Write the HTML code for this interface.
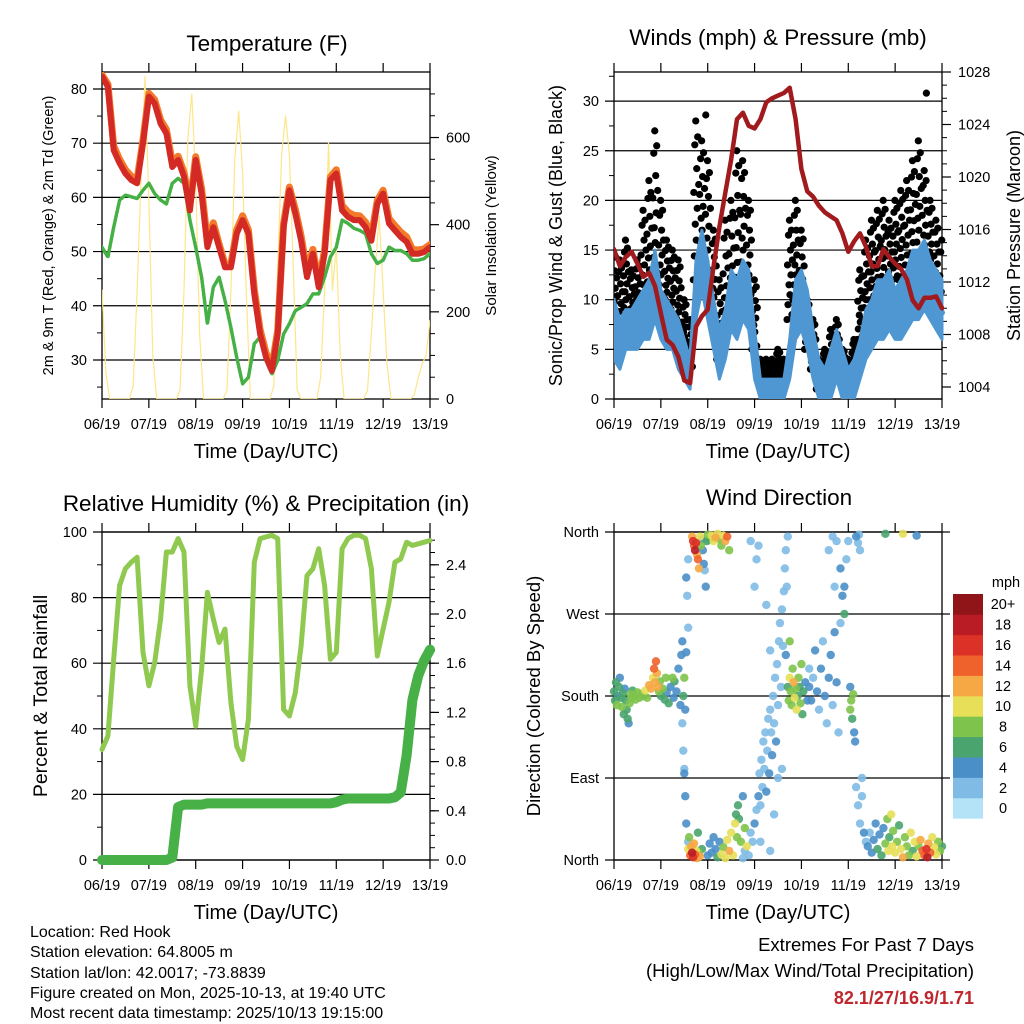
<!DOCTYPE html>
<html><head><meta charset="utf-8"><title>Station Meteogram</title>
<style>
html,body{margin:0;padding:0;background:#fff;}
svg{display:block;font-family:"Liberation Sans",Arial,sans-serif;}
</style></head>
<body>
<svg id="chart" width="1024" height="1024" viewBox="0 0 1024 1024" xmlns="http://www.w3.org/2000/svg">
<rect width="1024" height="1024" fill="#fff"/>
<g id="g1"></g>
<g id="g2"></g>
<g id="g3"></g>
<g id="g4"></g>
<g font-size="16" fill="#000">
<text x="30" y="937">Location: Red Hook</text>
<text x="30" y="957">Station elevation: 64.8005 m</text>
<text x="30" y="978">Station lat/lon: 42.0017; -73.8839</text>
<text x="30" y="998">Figure created on Mon, 2025-10-13, at 19:40 UTC</text>
<text x="30" y="1018">Most recent data timestamp: 2025/10/13 19:15:00</text>
</g>
<g text-anchor="end">
<text x="974" y="951" font-size="18.5">Extremes For Past 7 Days</text>
<text x="974" y="977" font-size="18.5">(High/Low/Max Wind/Total Precipitation)</text>
<text x="974" y="1004" font-size="18" font-weight="bold" fill="#c0272d">82.1/27/16.9/1.71</text>
</g>
</svg>
<script>
// ---- data (3-hourly unless noted), time in hours from 06/19 UTC ----
const dayLabels = ["06/19","07/19","08/19","09/19","10/19","11/19","12/19","13/19"];
const tempRed = [82.3,80.4,68.7,66.3,64.4,63.2,62.6,70,78.6,77.3,73.6,71.8,65.6,66.9,63.8,57.6,66.9,60.7,50.8,54.5,50.8,47.1,47.1,53.3,55.8,53.3,42.2,34.8,30.5,28,34.8,54.5,61.3,57,52,45.3,49.6,43.4,49.6,63.2,64.4,57.6,56.4,55.8,55.8,54.5,52,58.8,60.7,55.2,53.9,52.7,51.8,49.6,49.6,49.9,50.8];
const tempOrange = [82.6,80.9,69.5,67.0,65.1,63.9,63.3,70.6,79.2,78.0,74.3,72.5,66.4,67.6,64.6,58.6,67.5,61.6,51.8,55.3,51.4,47.7,47.6,54.0,56.6,54.0,43.0,35.6,31.3,28.8,35.4,55.2,61.9,57.8,52.9,46.2,50.4,44.2,50.3,63.8,65.1,58.5,57.3,56.7,56.6,55.4,52.9,59.4,61.3,56.1,54.8,53.6,52.7,50.4,50.3,50.5,51.3];
const dewpoint = [50.8,49,54.5,59.5,60.4,60.1,59.8,61.3,62.6,60.7,59.5,58.8,62.6,63.5,62.6,55.8,50.8,45.3,36.7,43.4,45.3,41,36,30.5,25.6,26.8,33,34.2,29.9,27.4,29.9,34.8,36.7,39.1,39.7,40.4,42.2,42.2,45.3,49,50.8,55.8,55.2,54.3,53.9,53.3,49.6,47.8,48.4,50.8,50.2,50.2,49.6,48.4,48.4,48.7,49.6];
// solar insolation, 2-hourly
const solar = [250,60,0,0,0,0,0,0,30,250,500,740,450,100,0,0,0,0,0,0,20,250,600,700,500,150,0,0,0,0,0,0,20,250,550,660,520,230,0,0,0,0,0,0,30,300,560,650,560,300,20,0,0,0,0,0,50,250,590,250,350,100,0,0,0,0,0,0,20,150,300,420,250,80,0,0,0,0,0,0,10,50,80,100,180];
const pressure = [1014.5,1013.2,1013.9,1014.3,1013.4,1012.4,1012.7,1011.7,1009.6,1007.6,1007.2,1006.3,1004.5,1004.3,1008.6,1009.4,1009.9,1013.2,1016.2,1018.8,1021.3,1024.4,1024.9,1023.9,1023.7,1024.4,1025.7,1026,1026.2,1026.4,1026.8,1024.4,1020.6,1018.9,1018.5,1017.8,1017.3,1017,1016.7,1015.7,1014.3,1015.1,1015.7,1014.7,1013.2,1013.2,1014.5,1013.9,1013.4,1013,1012.2,1010.6,1010,1010.8,1010.8,1010.9,1010];
const windSpeed = [7.3,5,7,6.7,7.3,8.4,8.7,10.7,8,7.3,6.7,5,4,2.3,10.7,14.6,10.7,7.3,4.7,6.7,10,9,11.4,10,4.7,1,0.7,1,1,1,4,9,10,8,4.7,2,1,2.3,4,2.3,1.3,2,4,6,7.3,8.7,8.7,9.7,8.4,8.7,10,11.4,11.4,12.4,10.7,9.7,8.7];
const windLow = [4,3,5,5,5,6,6,8,6,5,5,3,2,1,8,11,8,5,2,4,7,6,8,7,2,0,0,0,0,0,2,6,7,5,2,0,0,0,2,0,0,0,2,4,5,6,6,7,6,6,7,8,8,9,8,7,6];
const windHigh = [10,8,9,9,10,11,12,15,11,10,9,8,6,4,14,17,14,10,7,9,13,12,14,13,7,2,2,2,2,2,6,12,13,11,7,4,3,5,7,5,3,4,6,9,10,12,12,13,11,12,13,15,15,16,14,13,12];
const gustLow = [8,6,8,7,8,9,10,12,10,9,8,7,5,3,12,14,12,8,4,6,8,10,12,10,5,2,2,2,2,2,8,10,8,5,3,1,2,2,3,3,1,3,6,8,10,10,11,10,12,12,12,13,14,13,12,10,8];
const gustHigh = [15,14,16,13,14,19,22,27,20,16,15,14,10,8,28,26,24,17,12,18,20,25,24,20,12,4,4,4,5,4,18,20,17,10,8,4,5,7,8,5,4,6,13,16,18,19,20,18,20,21,22,24,26,23,20,18,16];
const gustOutlierT = [47, 160];
const gustOutlierV = [28.6, 30.8];
const rhValues = [33.7,37.8,61.2,83.7,88.8,90.8,92.3,63.3,53.1,60.2,73.5,93.9,93.9,98,93.9,53.1,40.8,58.2,81.6,73.5,66.3,70.4,48,34.7,30.6,42.9,90.8,98,98.5,99,98,45.9,43.9,51,65.3,86.7,88.8,94.9,83.7,61.2,63.3,94.9,98,99,99,98,88.8,62.2,70.4,78.6,90.8,91.8,96.9,95.9,96.4,96.9,97.4];
const precipValues = [0,0,0,0,0,0,0,0,0,0,0,0,0.02,0.43,0.45,0.45,0.45,0.45,0.46,0.46,0.46,0.46,0.46,0.46,0.46,0.46,0.46,0.46,0.46,0.46,0.46,0.46,0.46,0.46,0.46,0.46,0.46,0.46,0.46,0.46,0.47,0.49,0.5,0.5,0.5,0.5,0.5,0.5,0.5,0.5,0.51,0.55,0.85,1.3,1.5,1.62,1.71];
// wind direction scatter: time (h), direction (deg), speed (mph)
const dirPts = [[0,185,6],[0.5,175,6],[1,195,5],[1.5,170,7],[2,180,4],[2.5,190,6],[3,200,4],[3.5,178,6],[4,168,7],[4.5,183,5],[5,160,6],[5.5,188,4],[6,175,6],[6.5,165,5],[7,155,6],[7.5,150,4],[8,172,7],[8.5,182,8],[9,178,7],[9.5,186,6],
[10,180,7],[11,176,8],[12,184,7],[13,178,7],[14,182,8],[15,180,6],[16,186,9],[17,178,8],[18,192,11],[19,188,12],[20,200,10],[20.5,210,13],[21,195,12],[21.5,218,14],[22,205,11],[22.5,190,12],[23,185,8],[23.5,196,7],[24,180,6],[25,188,7],[26,176,6],[26.5,200,8],
[27,184,4],[28,172,6],[29,190,4],[30,200,7],[30.5,178,3],[31,196,6],[32,185,4],[33,210,3],[34,170,4],[34.5,225,4],[35,240,4],[35.5,180,5],[36,200,8],[36.5,165,3],[37,228,4],
[35,150,2],[35.5,120,2],[36,95,3],[36.5,70,4],[37,40,3],[37.5,290,2],[38,330,2],[37,310,3],[38,255,2],[36,100,2],[38,20,2],
[40,355,12],[40.5,350,16],[41,345,14],[41.5,340,18],[42,348,15],[42.5,335,12],[43,330,13],[43.5,320,12],[44,355,9],[44.5,345,8],[45,352,4],[45.5,340,4],[46,325,3],[46.5,318,2],[47,300,3],[47.5,350,5],
[38,12,10],[38.5,25,8],[39,5,14],[39.5,15,12],[40,8,18],[40.5,3,16],[41,18,12],[41.5,6,14],[42,10,10],[42.5,2,12],[43,30,6],[43.5,8,8],[44,4,11],[45,12,6],
[48,357,8],[49,352,6],[50,356,9],[51,350,10],[52,354,12],[53,358,10],[54,352,8],[55,345,7],[56,356,10],[57,350,12],[58,355,14],[59,340,7],
[48,5,3],[49,18,3],[50,8,4],[51,25,3],[52,12,4],[53,3,6],[54,20,4],[55,6,10],[56,14,8],[57,2,9],[58,22,10],[59,10,12],[60,30,9],[61,5,10],
[62,40,9],[62.5,50,6],[63,25,8],[63.5,60,6],[64,45,5],[65,20,7],[66,70,4],[67,35,8],[68,15,9],
[66,2,2],[67,10,1],[69,5,1],[70,30,2],[71,20,1],[72,40,3],[73,55,2],[74,70,3],[74.5,95,2],[75,60,2],[75.5,110,1],[76,80,2],[76.5,130,1],[77,100,2],[77.5,140,1],[78,75,4],[78.5,120,2],[79,155,1],[79.5,95,3],[80,165,2],[80.5,140,1],[81,115,4],[81.5,180,1],[82,150,2],[82.5,200,1],[83,130,4],[83.5,215,1],[84,170,2],[84.5,240,1],[85,260,2],[85.5,190,1],[86,275,2],[86.5,235,1],[87,295,1],[87.5,320,2],[88,340,1],[88.5,300,2],[89,355,1],[72,300,1],[73,330,1],[74,345,1],[70,350,1],[75,20,1],[80,10,1],[82,50,1],[84,90,2],[86,100,1],[78,280,1],[80,230,1],
[89,190,6],[89.5,175,8],[90,200,10],[90.5,185,8],[91,170,7],[91.5,210,8],[92,195,12],[92.5,178,10],[93,188,8],[93.5,165,9],[94,180,6],[94.5,200,8],[95,190,6],[95.5,172,7],[96,215,8],[96.5,160,6],[97,185,5],[98,195,4],[99,175,4],[100,210,2],[88,225,4],[90,240,8],
[100,190,4],[101,175,3],[102,200,2],[103,230,3],[104,185,4],[105,165,2],[106,210,3],[107,240,2],[108,180,4],[109,150,2],[110,200,3],[111,225,4],[112,170,2],[113,250,4],[114,195,3],[115,140,2],[116,260,2],[117,290,4],[118,300,3],[119,330,2],[120,350,2],[118,270,5],[116,320,3],[114,350,2],[112,355,1],[110,340,2],[113,300,2],
[121,165,8],[121.5,175,7],[122,155,6],[122.5,182,8],[123,140,4],[123.5,130,3],[121,190,3],
[124,355,3],[125,348,2],[126,340,2],[125.5,357,2],[124,80,2],[125,60,1],[126,40,2],[127,70,2],[128,30,3],[129,20,2],[127,90,1],
[130,15,3],[131,30,2],[132,8,4],[133,22,3],[134,40,3],[135,12,5],[136,28,4],[137,5,6],[138,35,4],[139,18,7],[140,45,8],[140.5,10,9],[141,25,6],[142,50,9],[142.5,15,10],[143,32,8],[144,8,10],[145,20,8],[146,38,6],[147,12,9],[148,3,12],[149,25,8],[150,15,7],[151,5,8],[152,30,9],[153,10,6],[154,20,9],[155,4,10],[156,15,8],[157,22,12],[158,10,13],[159,5,14],[160,12,16],[160.5,3,18],[161,18,12],[162,8,13],[163,25,10],[164,14,9],[165,6,10],[166,20,8],[167,10,7],[168,15,6],
[139,358,6],[148,358,10],[155,356,4]];
const speedLabels = ["0","2","4","6","8","10","12","14","16","18","20+"];
const speedColors = ["#b4e3f8","#80bbe5","#4a8fc8","#49a46e","#7ec34b","#e7df58","#f5a844","#ef622b","#dc3127","#b91c24","#8f1519"];

const NS="http://www.w3.org/2000/svg";
function el(parent,tag,attrs){const e=document.createElementNS(NS,tag);for(const k in attrs)e.setAttribute(k,attrs[k]);parent.appendChild(e);return e;}
function txt(parent,s,x,y,size,anchor,extra){const t=el(parent,'text',Object.assign({x:x,y:y,'font-size':size,'text-anchor':anchor||'middle'},extra||{}));t.textContent=s;return t;}

function axesFrame(g,P,cfg){
  const xs=t=>P.L+t/168*(P.R-P.L);
  cfg.grid.forEach(v=>{const y=cfg.yL(v);const l=el(g,'line',{x1:P.L-9,x2:P.R,y1:y,y2:y,stroke:'#000','stroke-width':1.2});
    
    });
  cfg.minorL.forEach(v=>{const y=cfg.yL(v);el(g,'line',{x1:P.L-5,x2:P.L,y1:y,y2:y,stroke:'#000','stroke-width':1});});
  if(cfg.yR){
    cfg.majorR.forEach(v=>{const y=cfg.yR(v);el(g,'line',{x1:P.R,x2:P.R+9,y1:y,y2:y,stroke:'#000','stroke-width':1.2});});
    cfg.minorR.forEach(v=>{const y=cfg.yR(v);el(g,'line',{x1:P.R,x2:P.R+5,y1:y,y2:y,stroke:'#000','stroke-width':1});});
  }
  el(g,'rect',{x:P.L,y:P.T,width:P.R-P.L,height:P.B-P.T,fill:'none',stroke:'#000','stroke-width':1.3});
  for(let d=0;d<=7;d++){const x=xs(d*24);
    el(g,'line',{x1:x,x2:x,y1:P.B,y2:P.B+9,stroke:'#000','stroke-width':1.2});
    el(g,'line',{x1:x,x2:x,y1:P.T,y2:P.T-9,stroke:'#000','stroke-width':1.2});
    const lb=txt(g,dayLabels[d],x,P.B+30,14.5);
    
    
  }
  const xt=txt(g,'Time (Day/UTC)',(P.L+P.R)/2,P.B+59,20);
  
  
  const tt=txt(g,cfg.title,cfg.titleX,cfg.titleY,22.5);
  
  
  cfg.labelsL.forEach(v=>{const lb=txt(g,cfg.fmtL?cfg.fmtL(v):String(v),P.L-15,cfg.yL(v)+5,14.5,'end');
    
    });
  if(cfg.yR) cfg.labelsR.forEach(v=>{const lb=txt(g,cfg.fmtR?cfg.fmtR(v):String(v),P.R+16,cfg.yR(v)+5,14.5,'start');
    
    });
  const yl=txt(g,cfg.ylab,0,0,cfg.ylabSize,'middle',{transform:`translate(${cfg.ylabX},${(P.T+P.B)/2}) rotate(-90)`});
  
  
  if(cfg.y2lab){const y2=txt(g,cfg.y2lab,0,0,cfg.y2labSize,'middle',{transform:`translate(${cfg.y2labX},${(P.T+P.B)/2}) rotate(-90)`});
    
    }
  return xs;
}
function path(g,arr,step,xs,ys,attrs,name){
  const d=arr.map((v,i)=>(i?'L':'M')+xs(i*step).toFixed(1)+','+ys(v).toFixed(1)).join('');
  const p=el(g,'path',Object.assign({d:d,fill:'none','stroke-linejoin':'round','stroke-linecap':'round'},attrs));
  
  
  return p;
}
function range(a,b,s){const r=[];for(let v=a;v<=b+1e-9;v+=s)r.push(Math.round(v*1000)/1000);return r;}

// ---- Panel 1: Temperature ----
(function(){
  const g=document.getElementById('g1');
  const P={L:102,R:430,T:72,B:399};
  const yL=v=>399-(v-22.8)*5.42, yR=v=>399-v*0.4358;
  const clipG=el(g,'g',{'clip-path':'url(#c1)'});
  const cp=el(el(g,'defs',{}),'clipPath',{id:'c1'});el(cp,'rect',{x:P.L,y:P.T,width:P.R-P.L,height:P.B-P.T});
  const xs=axesFrame(g,P,{yL:yL,yR:yR,grid:[30,40,50,60,70,80],minorL:[25,35,45,55,65,75],
    majorR:[0,200,400,600],minorR:range(50,700,50).filter(v=>v%200),labelsL:[30,40,50,60,70,80],labelsR:[0,200,400,600],
    title:'Temperature (F)',titleX:267,titleY:51,ylab:'2m & 9m T (Red, Orange) & 2m Td (Green)',ylabX:53,ylabSize:14.5,
    y2lab:'Solar Insolation (Yellow)',y2labX:496,y2labSize:15});
  g.appendChild(clipG);
  path(clipG,solar,2,xs,yR,{stroke:'#fde68a','stroke-width':1.2},'solar-line');
  path(clipG,dewpoint,3,xs,yL,{stroke:'#45b045','stroke-width':3.5,'stroke-dasharray':'2.5 1.5'},'dewpoint-line');
  path(clipG,tempOrange,3,xs,yL,{stroke:'#f37a2a','stroke-width':7},'temp-9m-line');
  path(clipG,tempRed,3,xs,yL,{stroke:'#d42a26','stroke-width':6},'temp-2m-line');
})();

// ---- Panel 2: Winds & Pressure ----
(function(){
  const g=document.getElementById('g2');
  const P={L:614,R:942,T:72,B:399};
  const yL=v=>399-v*9.93, yR=v=>387-(v-1004)*13.125;
  const cp=el(el(g,'defs',{}),'clipPath',{id:'c2'});el(cp,'rect',{x:P.L,y:P.T-4,width:P.R-P.L+4,height:P.B-P.T+4});
  const xs=axesFrame(g,P,{yL:yL,yR:yR,grid:[0,5,10,15,20,25,30],minorL:[2.5,7.5,12.5,17.5,22.5,27.5,32.5],
    majorR:[1004,1008,1012,1016,1020,1024,1028],minorR:range(1004,1028,1),labelsL:[0,5,10,15,20,25,30],labelsR:[1004,1008,1012,1016,1020,1024,1028],
    title:'Winds (mph) & Pressure (mb)',titleX:778,titleY:45,ylab:'Sonic/Prop Wind & Gust (Blue, Black)',ylabX:562,ylabSize:18,
    y2lab:'Station Pressure (Maroon)',y2labX:1020,y2labSize:18});
  const cg=el(g,'g',{'clip-path':'url(#c2)'});
  const fr=[0,0.55,0.15,0.85,0.35,1.0,0.25,0.7,0.45,0.9,0.05,0.6];
  gustLow.forEach((lo,i)=>{const hi=gustHigh[i];
    fr.forEach((f,k)=>{const t=i*3+(k-5.5)*0.25; if(t<0||t>168)return;
      const c=el(cg,'circle',{cx:xs(t),cy:yL(lo+(hi-lo)*f),r:3.6,fill:'#000'});
      
      });
  });
  gustOutlierT.forEach((t,i)=>{const c=el(cg,'circle',{cx:xs(t),cy:yL(gustOutlierV[i]),r:3.6,fill:'#000'});
    
    });
  // wind band between low and high
  let d='';
  windHigh.forEach((v,i)=>{d+=(i?'L':'M')+xs(i*3).toFixed(1)+','+yL(v).toFixed(1);});
  for(let i=windLow.length-1;i>=0;i--){d+='L'+xs(i*3).toFixed(1)+','+yL(windLow[i]).toFixed(1);}
  const band=el(cg,'path',{d:d+'Z',fill:'#4f97d2',stroke:'#4f97d2','stroke-width':3,'stroke-linejoin':'round'});
  
  
  path(cg,windSpeed,3,xs,yL,{stroke:'#4f97d2','stroke-width':6},'wind-speed-line');
  path(cg,pressure,3,xs,yR,{stroke:'#a11a1d','stroke-width':4.5},'pressure-line');
})();

// ---- Panel 3: RH & Precip ----
(function(){
  const g=document.getElementById('g3');
  const P={L:102,R:430,T:532,B:860};
  const yL=v=>860-v*3.28, yR=v=>860-v*123;
  const xs=axesFrame(g,P,{yL:yL,yR:yR,grid:[0,20,40,60,80,100],minorL:[10,30,50,70,90],
    majorR:[0,0.4,0.8,1.2,1.6,2.0,2.4],minorR:range(0,2.6,0.1),labelsL:[0,20,40,60,80,100],labelsR:[0,0.4,0.8,1.2,1.6,2.0,2.4],fmtR:v=>v.toFixed(1),
    title:'Relative Humidity (%) & Precipitation (in)',titleX:266,titleY:511,ylab:'Percent & Total Rainfall',ylabX:47,ylabSize:19.5});
  path(g,rhValues,3,xs,yL,{stroke:'#8fc94f','stroke-width':5},'rh-line');
  path(g,precipValues,3,xs,yR,{stroke:'#47b047','stroke-width':10},'precip-line');
})();

// ---- Panel 4: Wind Direction ----
(function(){
  const g=document.getElementById('g4');
  const P={L:614,R:942,T:532,B:860};
  const yL=v=>860-v*328/360;
  const xs=axesFrame(g,P,{yL:yL,grid:[0,90,180,270,360],minorL:[],labelsL:[0,90,180,270,360],
    fmtL:v=>['North','East','South','West','North'][v/90],
    title:'Wind Direction',titleX:779,titleY:505,ylab:'Direction (Colored By Speed)',ylabX:540,ylabSize:18.5});
  [0,90,180,270,360].forEach(v=>{el(g,'line',{x1:P.R,x2:P.R+8,y1:yL(v),y2:yL(v),stroke:'#000','stroke-width':1.2});});
  const cp=el(el(g,'defs',{}),'clipPath',{id:'c4'});el(cp,'rect',{x:P.L-5,y:P.T-5,width:P.R-P.L+12,height:P.B-P.T+10});
  const cg=el(g,'g',{'clip-path':'url(#c4)'});
  dirPts.slice().sort((a,b)=>a[2]-b[2]).forEach(p=>{
    const idx=Math.min(10,Math.round(p[2]/2));
    const c=el(cg,'circle',{cx:xs(p[0]),cy:yL(p[1]),r:4.2,fill:speedColors[idx],'fill-opacity':0.9});
    
    
  });
  const cb=el(g,'g',{});
  
  
  const h=20.4;
  speedColors.forEach((c,i)=>{const y=594+(10-i)*h;
    const r=el(cb,'rect',{x:953,y:y,width:30,height:h+0.3,fill:c});
    
    
    const t=txt(cb,speedLabels[i],1003,y+h/2+5,14.5,'middle');
    
    });
  const m=txt(cb,'mph',1006,587,14.5,'middle');
  
  
})();
</script>
</body></html>
